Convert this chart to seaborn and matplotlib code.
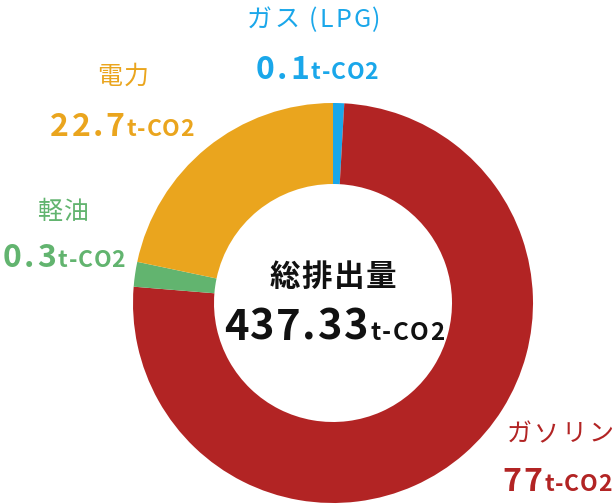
import matplotlib
matplotlib.use("Agg")
from matplotlib import pyplot as plt
from matplotlib.offsetbox import TextArea, HPacker, AnnotationBbox
import seaborn as sns

# data
sources = ['ガス (LPG)', 'ガソリン', '軽油', '電力']
value_labels = ['0.1', '77', '0.3', '22.7']
shares = [0.9, 75.4, 2.0, 21.7]  # drawn share of the ring (%)
colors = ['#1aa7ea', '#b22424', '#62b46f', '#eaa51e']
total_label = '437.33'
unit = 't-CO2'
total_title = '総排出量'

# label anchor points in pixels (name centre, value centre)
label_px = {
    'ガス (LPG)': ((314, 20), (317, 70)),
    'ガソリン': ((560, 434), (557, 482)),
    '軽油': ((63, 212), (64, 258)),
    '電力': ((123, 77), (122, 127)),
}

W, H = 616, 504
CX, CY, R = 333, 303, 200


def to_data(px, py):
    return (px - CX) / R, (CY - py) / R


def spaced(text, color, size, spacing, weight='normal'):
    # letter spaced run of characters
    parts = [TextArea(ch, textprops=dict(color=color, fontsize=size, fontweight=weight)) for ch in text]
    return HPacker(children=parts, align='baseline', pad=0, sep=spacing)


def place(ax, box, xy):
    ab = AnnotationBbox(box, xy, xycoords='data', frameon=False, box_alignment=(0.5, 0.5), pad=0)
    ax.add_artist(ab)


def value_box(ax, xy, number, color, num_size, num_sp, unit_size, unit_sp):
    num = spaced(number, color, num_size, num_sp, 'bold')
    un = spaced(unit, color, unit_size, unit_sp, 'bold')
    place(ax, HPacker(children=[num, un], align='baseline', pad=0, sep=1.5), xy)


sns.set_theme(style='white')
plt.rcParams['font.family'] = ['Noto Sans CJK JP', 'DejaVu Sans']

fig = plt.figure(figsize=(W / 100, H / 100), dpi=100)
ax = fig.add_axes([0, 0, 1, 1])
ax.pie(shares, colors=colors, startangle=90, counterclock=False, radius=1.0,
       wedgeprops=dict(width=0.405, linewidth=0))
ax.set_xlim(-CX / R, (W - CX) / R)
ax.set_ylim(-(H - CY) / R, CY / R)
ax.set_aspect('equal')
ax.axis('off')

for name, number, color in zip(sources, value_labels, colors):
    (nx, ny), (vx, vy) = label_px[name]
    place(ax, spaced(name, color, 18, 1.5), to_data(nx, ny))
    value_box(ax, to_data(vx, vy), number, color, 23, 1.8, 16.5, 0.5)

place(ax, spaced(total_title, '#111111', 22, 1, 'bold'), to_data(333, 277))
value_box(ax, to_data(334, 328), total_label, '#111111', 30, 1.2, 17.5, 1)

plt.savefig('out.png', dpi=100)
